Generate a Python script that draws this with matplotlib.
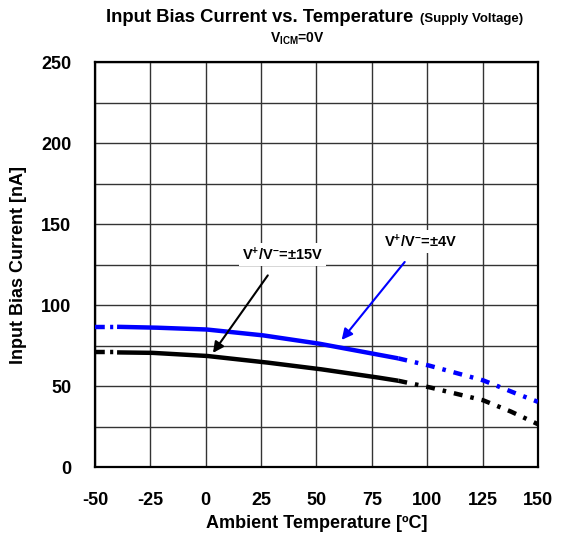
import numpy as np
import matplotlib
matplotlib.use("Agg")
import matplotlib.pyplot as plt
from matplotlib.ticker import MultipleLocator

plt.rcParams['font.family'] = ['Liberation Sans', 'DejaVu Sans']
plt.rcParams['font.weight'] = 'bold'
plt.rcParams['axes.unicode_minus'] = False
plt.rcParams['mathtext.fontset'] = 'custom'
plt.rcParams['mathtext.rm'] = 'Liberation Sans:bold'
plt.rcParams['mathtext.it'] = 'Liberation Sans:bold'
plt.rcParams['mathtext.bf'] = 'Liberation Sans:bold'

# +-4V supply (blue)
temp_4v = [-50, -40, -25, 0, 25, 50, 75, 87, 100, 125, 137, 150]
ib_4v = [86.6, 86.6, 86.2, 85.0, 81.5, 76.5, 70.2, 67.1, 63.0, 53.7, 47.1, 40.3]
# +-15V supply (black)
temp_15v = [-50, -40, -25, 0, 25, 50, 75, 87, 100, 125, 137, 150]
ib_15v = [70.8, 70.8, 70.6, 68.7, 65.0, 60.8, 55.9, 53.3, 49.6, 41.4, 34.8, 26.5]

solid_lo, solid_hi = -40, 87

fig = plt.figure(figsize=(5.65, 5.4), dpi=100)
ax = fig.add_axes([0.168, 0.135, 0.784, 0.750])

def draw(t, y, color):
    t = np.array(t, float)
    y = np.array(y, float)
    tt = np.linspace(-50, 150, 801)
    yy = np.interp(tt, t, y)
    m = (tt >= solid_lo) & (tt <= solid_hi)
    lo = tt <= solid_lo
    hi = tt >= solid_hi
    ax.plot(tt[m], yy[m], color=color, lw=3.2, solid_capstyle='butt', zorder=3)
    ax.plot(tt[lo], yy[lo], color=color, lw=3.2, ls=(0, (2.2, 1.2, 0.7, 1.2)), zorder=3)
    ax.plot(tt[hi], yy[hi], color=color, lw=3.2, ls=(0, (2.0, 1.8, 0.8, 1.8)), zorder=3)

draw(temp_4v, ib_4v, '#0000ff')
draw(temp_15v, ib_15v, 'black')

ax.set_xlim(-50, 150)
ax.set_ylim(0, 250)
ax.xaxis.set_major_locator(MultipleLocator(25))
ax.yaxis.set_major_locator(MultipleLocator(50))
ax.yaxis.set_minor_locator(MultipleLocator(25))
ax.grid(True, which='both', color='#333333', lw=1.0)
ax.set_axisbelow(True)
for s in ax.spines.values():
    s.set_linewidth(1.6)
ax.tick_params(axis='x', which='both', length=0, labelsize=13, pad=18)
ax.tick_params(axis='y', which='both', length=0, labelsize=13, pad=17)
for lab in ax.get_xticklabels() + ax.get_yticklabels():
    lab.set_fontweight('bold')

ax.set_xlabel('Ambient Temperature [ºC]', fontsize=13, fontweight='bold', labelpad=4)
ax.set_ylabel('Input Bias Current [nA]', fontsize=13, fontweight='bold', labelpad=10)

bbox = dict(facecolor='white', edgecolor='none', pad=2)
ax.annotate('V$^{+}$/V$^{-}$=±15V', xy=(3.3, 70.5), xytext=(34.6, 131),
            ha='center', va='center', fontsize=10.5, fontweight='bold', bbox=bbox,
            arrowprops=dict(arrowstyle='-|>', color='black', lw=1.5,
                            mutation_scale=16, shrinkA=8, shrinkB=0), zorder=5)
ax.annotate('V$^{+}$/V$^{-}$=±4V', xy=(61.4, 78.5), xytext=(97.2, 139),
            ha='center', va='center', fontsize=10.5, fontweight='bold', bbox=bbox,
            arrowprops=dict(arrowstyle='-|>', color='#0000ff', lw=1.5,
                            mutation_scale=16, shrinkA=8, shrinkB=0), zorder=5)

W, H = 565, 540
fig.text(413 / W, 1 - 18 / H, 'Input Bias Current vs. Temperature', ha='right', va='center',
         fontsize=13.3, fontweight='bold')
fig.text(420 / W, 1 - 19 / H, '(Supply Voltage)', ha='left', va='center',
         fontsize=9.5, fontweight='bold')
fig.text(297 / W, 1 - 39 / H, 'V$_{\\mathrm{ICM}}$=0V', ha='center', va='center',
         fontsize=10, fontweight='bold')

fig.savefig('out.png', dpi=100)
